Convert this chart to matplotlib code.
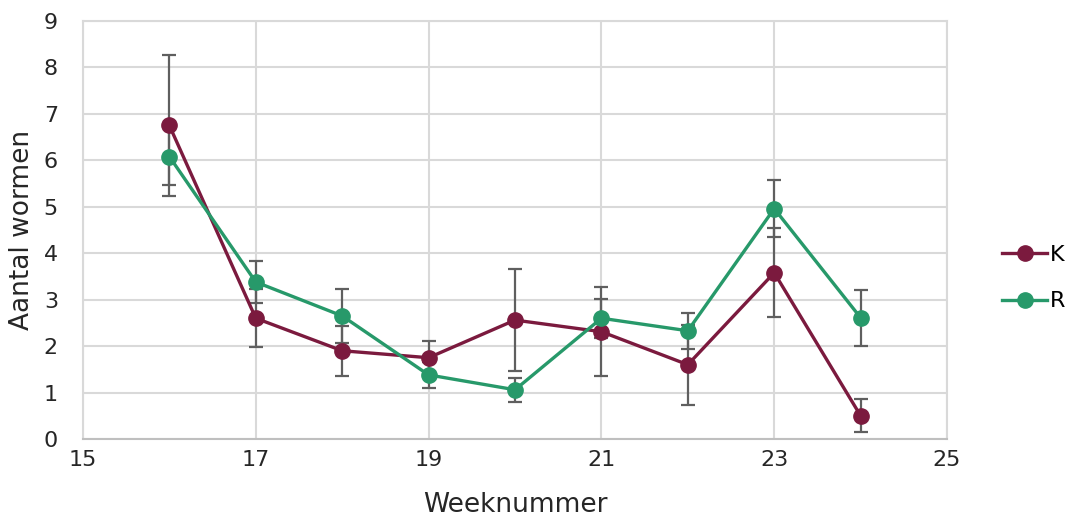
import matplotlib.pyplot as plt
import numpy as np

# DATA #
weeks = [16, 17, 18, 19, 20, 21, 22, 23, 24]
k_values = [6.75, 2.60, 1.90, 1.75, 2.56, 2.31, 1.60, 3.58, 0.50]
k_errors = [1.52, 0.63, 0.54, 0.36, 1.10, 0.96, 0.86, 0.96, 0.36]
r_values = [6.08, 3.38, 2.65, 1.38, 1.06, 2.60, 2.33, 4.96, 2.61]
r_errors = [0.61, 0.46, 0.58, 0.28, 0.26, 0.42, 0.39, 0.61, 0.60]

x_ticks = [15, 17, 19, 21, 23, 25]
y_ticks = list(range(0, 10))

k_color = "#7B1A3E"
r_color = "#27996A"
err_color = "#5f5f5f"
grid_color = "#d9d9d9"

# PLOT #
plt.rcParams['font.family'] = ['DejaVu Sans']
fig = plt.figure(figsize=(10.79, 5.21), dpi=100)
ax = fig.add_axes([0.0769, 0.1574, 0.8008, 0.8023])

for vals, errs in [(k_values, k_errors), (r_values, r_errors)]:
    ax.errorbar(weeks, vals, yerr=errs, fmt='none', ecolor=err_color,
                elinewidth=1.6, capsize=5, capthick=1.6, zorder=2)

ax.plot(weeks, k_values, color=k_color, lw=2.4, marker='o', ms=11, label='K', zorder=3)
ax.plot(weeks, r_values, color=r_color, lw=2.4, marker='o', ms=11, label='R', zorder=3)

ax.set_xlim(15, 25)
ax.set_ylim(0, 9)
ax.set_xticks(x_ticks)
ax.set_yticks(y_ticks)
ax.grid(True, color=grid_color, lw=1.5, zorder=0)
ax.set_axisbelow(True)
for side in ['top', 'right', 'left']:
    ax.spines[side].set_color(grid_color)
    ax.spines[side].set_linewidth(1.5)
ax.spines['bottom'].set_color('#bfbfbf')
ax.spines['bottom'].set_linewidth(1.5)
ax.tick_params(length=0, labelsize=16, colors='#262626', pad=8)
ax.tick_params(axis='y', pad=18)

ax.set_xlabel("Weeknummer", fontsize=19, color='#262626', labelpad=16)
ax.set_ylabel("Aantal wormen", fontsize=19, color='#262626', labelpad=6)

ax.legend(loc='center left', bbox_to_anchor=(1.064, 0.385), frameon=False,
          fontsize=16, handlelength=2.0, handletextpad=0.15, labelspacing=1.2,
          borderaxespad=0, borderpad=0)

fig.savefig("out.png", dpi=100)
